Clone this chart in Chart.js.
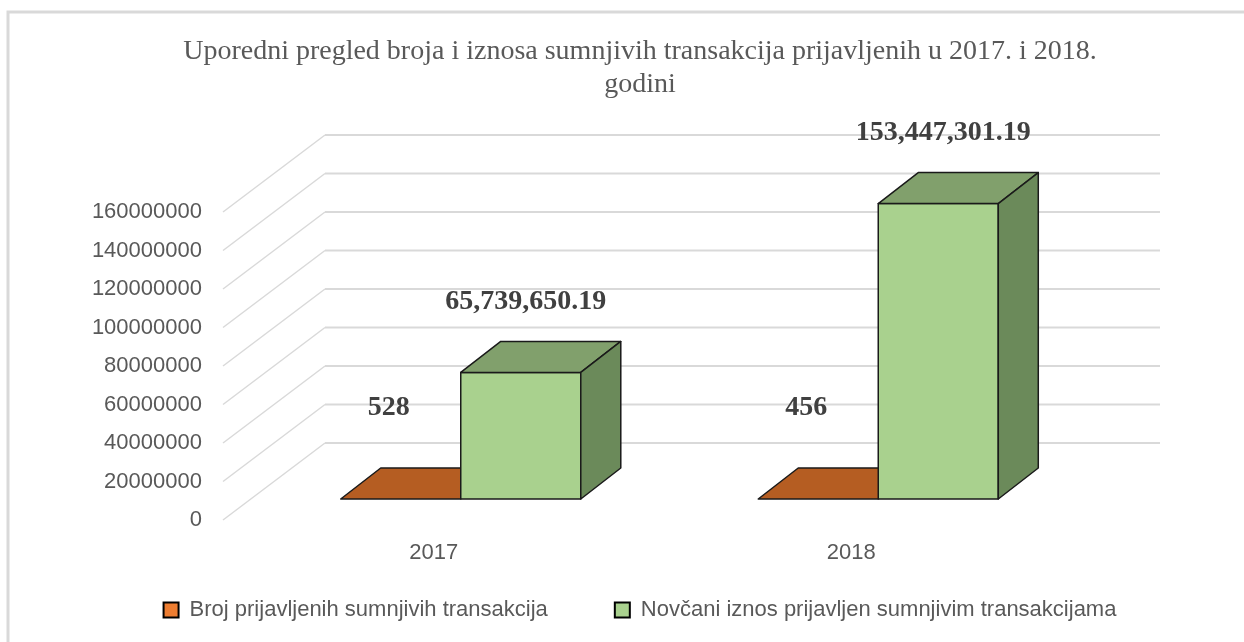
<!DOCTYPE html>
<html><head><meta charset="utf-8">
<script src="https://cdn.jsdelivr.net/npm/chart.js@4.4.1/dist/chart.umd.min.js"></script>
<style>html,body{margin:0;padding:0;background:#fff;} #wrap{width:1244px;height:642px;position:relative;}</style>
</head><body><div id="wrap"><canvas id="c"></canvas></div>
<script>
const categories = ['2017', '2018'];
const seriesNames = ['Broj prijavljenih sumnjivih transakcija', 'Novčani iznos prijavljen sumnjivim transakcijama'];
const brojValues = [528, 456];
const iznosValues = [65739650.19, 153447301.19];
const yTickValues = [0, 20000000, 40000000, 60000000, 80000000, 100000000, 120000000, 140000000, 160000000];
const titleLines = ['Uporedni pregled broja i iznosa sumnjivih transakcija prijavljenih u 2017. i 2018.', 'godini'];

const legendColors = ['#ED7D31', '#A9D18E'];
const faceColors = [
  {front: '#B55D22', top: '#B55D22', side: '#8E4718'},
  {front: '#A9D18E', top: '#81A06C', side: '#6B8A5A'}
];
const DEPTH = {x: 100, y: -77};
const BAR_OFF = {x: 27, y: -21};
const BAR_DEPTH = {x: 40, y: -31};
const LEGEND_SHIFT = -33;

function fmtLabel(i, v) {
  if (i === 0) return String(v);
  return v.toLocaleString('en-US', {minimumFractionDigits: 2, maximumFractionDigits: 2});
}

const frame = {
  id: 'frame',
  afterLayout(chart) {
    if (chart.legend) {
      chart.legend.top += LEGEND_SHIFT;
    }
  },
  beforeDraw(chart) {
    const ctx = chart.ctx;
    ctx.save();
    ctx.strokeStyle = '#D9D9D9';
    ctx.lineWidth = 3;
    ctx.strokeRect(8, 12, chart.width + 20, chart.height + 20);
    ctx.restore();
  }
};

function poly(ctx, pts, fill, stroke) {
  ctx.beginPath();
  ctx.moveTo(pts[0][0], pts[0][1]);
  for (let k = 1; k < pts.length; k++) ctx.lineTo(pts[k][0], pts[k][1]);
  ctx.closePath();
  ctx.fillStyle = fill;
  ctx.fill();
  if (stroke) { ctx.strokeStyle = stroke; ctx.stroke(); }
}

const scene3d = {
  id: 'scene3d',
  beforeDatasetsDraw(chart) {
    const ctx = chart.ctx, ys = chart.scales.y, a = chart.chartArea;
    ctx.save();
    ctx.strokeStyle = '#D9D9D9';
    yTickValues.forEach(v => {
      const py = ys.getPixelForValue(v);
      ctx.lineWidth = 1.5;
      ctx.beginPath(); ctx.moveTo(a.left - 2, py); ctx.lineTo(a.left + DEPTH.x, py + DEPTH.y); ctx.stroke();
      ctx.lineWidth = 2;
      ctx.beginPath(); ctx.moveTo(a.left + DEPTH.x, py + DEPTH.y); ctx.lineTo(a.right + DEPTH.x, py + DEPTH.y); ctx.stroke();
    });
    const metas = chart.data.datasets.map((d, i) => chart.getDatasetMeta(i));
    ctx.lineWidth = 1.5;
    ctx.lineJoin = 'round';
    const labels = [];
    for (let j = 0; j < categories.length; j++) {
      metas.forEach((m, i) => {
        const el = m.data[j];
        const p = el.getProps(['x', 'y', 'base', 'width'], true);
        const x0 = p.x - p.width / 2 + BAR_OFF.x, x1 = p.x + p.width / 2 + BAR_OFF.x;
        const yt = p.y + BAR_OFF.y, yb = p.base + BAR_OFF.y;
        const c = faceColors[i];
        const dx = BAR_DEPTH.x, dy = BAR_DEPTH.y;
        if (yb - yt > 1) poly(ctx, [[x0, yt], [x1, yt], [x1, yb], [x0, yb]], c.front, '#1A1A1A');
        poly(ctx, [[x0, yt], [x0 + dx, yt + dy], [x1 + dx, yt + dy], [x1, yt]], c.top, '#1A1A1A');
        if (yb - yt > 1) poly(ctx, [[x1, yt], [x1 + dx, yt + dy], [x1 + dx, yb + dy], [x1, yb]], c.side, '#1A1A1A');
        const val = chart.data.datasets[i].data[j];
        if (i === 0) labels.push([fmtLabel(i, val), p.x + BAR_OFF.x - 12, p.base + BAR_OFF.y - 91]);
        else labels.push([fmtLabel(i, val), p.x + BAR_OFF.x + 5, p.y + BAR_OFF.y + BAR_DEPTH.y - 40]);
      });
    }
    ctx.font = 'bold 28px "Liberation Serif"';
    ctx.fillStyle = '#404040';
    ctx.textAlign = 'center';
    ctx.textBaseline = 'middle';
    labels.forEach(l => ctx.fillText(l[0], l[1], l[2]));
    ctx.restore();
    return false;
  }
};

const sansFont = {family: '"Liberation Sans"', size: 22};

new Chart(document.getElementById('c'), {
  type: 'bar',
  data: {
    labels: categories,
    datasets: [
      {label: seriesNames[0], data: brojValues, backgroundColor: legendColors[0], borderColor: '#000', borderWidth: 2},
      {label: seriesNames[1], data: iznosValues, backgroundColor: legendColors[1], borderColor: '#000', borderWidth: 2}
    ]
  },
  options: {
    responsive: true,
    maintainAspectRatio: false,
    animation: false,
    layout: {padding: {left: 36, right: 0, top: 0, bottom: 11}},
    datasets: {bar: {barPercentage: 1, categoryPercentage: 0.575}},
    scales: {
      x: {
        grid: {display: false, drawTicks: false},
        border: {display: false},
        ticks: {padding: 20, color: '#595959', font: sansFont},
        afterFit(s) { s.height = 45; }
      },
      y: {
        min: 0, max: 160000000,
        grid: {display: false, drawTicks: false},
        border: {display: false},
        afterBuildTicks(s) { s.ticks = yTickValues.map(v => ({value: v})); },
        ticks: {padding: 23, color: '#595959', font: sansFont, callback: v => String(v)},
        afterFit(s) { s.width = 189; }
      },
      y2: {
        position: 'right',
        display: true,
        grid: {display: false},
        border: {display: false},
        ticks: {display: false},
        afterFit(s) { s.width = 184; }
      }
    },
    plugins: {
      title: {
        display: true,
        text: titleLines,
        color: '#595959',
        font: {family: '"Liberation Serif"', size: 28, weight: 'normal', lineHeight: '33px'},
        padding: {top: 35, bottom: 111}
      },
      legend: {
        position: 'bottom',
        maxHeight: 66,
        labels: {
          boxWidth: 15, boxHeight: 15, padding: 67, color: '#595959', font: sansFont,
          generateLabels(chart) {
            return chart.data.datasets.map((d, i) => ({
              text: d.label, fillStyle: legendColors[i], strokeStyle: '#000', lineWidth: 2,
              fontColor: '#595959', hidden: false, datasetIndex: i
            }));
          }
        }
      },
      tooltip: {enabled: false}
    }
  },
  plugins: [frame, scene3d]
});
</script>
</body></html>
